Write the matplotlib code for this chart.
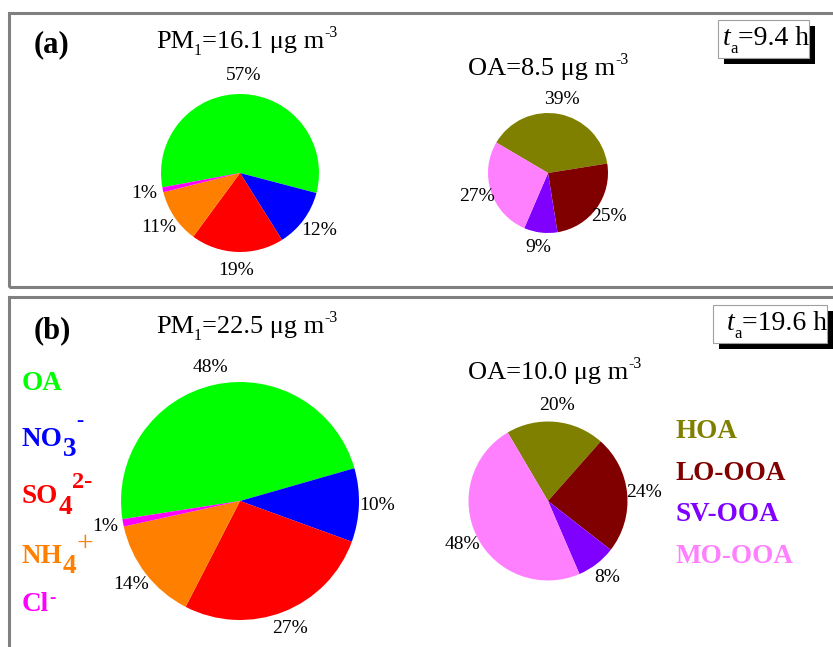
import matplotlib
matplotlib.use('Agg')
import matplotlib.pyplot as plt
from matplotlib.patches import Rectangle

plt.rcParams['font.family'] = ['Liberation Serif', 'DejaVu Serif']

# data
species = ['OA', 'NO3', 'SO4', 'NH4', 'Cl']
# label pieces: (text, shift down in px, size factor, bold)
species_labels = [
    [('OA', 0, 1.0, True)],
    [('NO', 0, 1.0, True), ('3', 10, 1.0, True), ('-', -20, 0.8, True)],
    [('SO', 0, 1.0, True), ('4', 11, 1.0, True), ('2-', -15, 0.9, True)],
    [('NH', 0, 1.0, True), ('4', 10, 1.0, True), ('+', -12, 1.1, False)],
    [('Cl', 0, 1.0, True), ('-', -8, 0.7, True)],
]
species_colors = ['#00ff00', '#0000ff', '#ff0000', '#ff8000', '#ff00ff']
pm1_a = [57, 12, 19, 11, 1]
pm1_b = [48, 10, 27, 14, 1]

factors = ['HOA', 'LO-OOA', 'SV-OOA', 'MO-OOA']
factor_colors = ['#808000', '#800000', '#8000ff', '#ff80ff']
oa_a = [39, 25, 9, 27]
oa_b = [20, 24, 8, 48]

pm1_total = [16.1, 22.5]
oa_total = [8.5, 10.0]
ta = [9.4, 19.6]

W, H = 833, 647
fig = plt.figure(figsize=(W / 100, H / 100), dpi=100)
ax = fig.add_axes([0, 0, 1, 1])
renderer = fig.canvas.get_renderer()


def Y(y):
    return H - y


def rich_text(x, base_y, pieces, size, color='black', zorder=3):
    # pieces: (text, shift down px, size factor, weight, style)
    for txt, dy, fs, wt, st in pieces:
        t = ax.text(x, Y(base_y + dy), txt, color=color, fontsize=size * fs,
                    fontweight=wt, fontstyle=st, va='baseline', zorder=zorder)
        x = t.get_window_extent(renderer).x1


def draw_pie(vals, colors, cx, cy, r, start, pdist):
    ax.pie(vals, colors=colors, center=(cx, Y(cy)), radius=r, startangle=start,
           counterclock=False, frame=True, autopct='%.0f%%', pctdistance=pdist,
           wedgeprops=dict(linewidth=0), textprops=dict(fontsize=14, color='black'))


draw_pie(pm1_a, species_colors, 240, 173, 79, 190.5, 1.24)
draw_pie(oa_a, factor_colors, 548, 173, 60, 149.5, 1.25)
draw_pie(pm1_b, species_colors, 240, 501, 119, 188.8, 1.15)
draw_pie(oa_b, factor_colors, 548, 501, 79.5, 120.5, 1.21)

ax.set_xlim(0, W)
ax.set_ylim(0, H)
ax.set_aspect('equal')
ax.axis('off')

# panel frames
for top, bottom in [(13, 287), (297, 670)]:
    ax.add_patch(Rectangle((9.5, Y(bottom)), 840, bottom - top, fill=False,
                           edgecolor='#808080', lw=2.2, zorder=5, clip_on=False))

for i, off in enumerate([0, 285]):
    ax.text(34, Y(52 + off + (1 if i else 0)), '(%s)' % 'ab'[i], fontsize=22,
            fontweight='bold', va='baseline')
    rich_text(156, 48 + off, [('PM', 0, 1, 'normal', 'normal'),
                              ('1', 7, 0.6, 'normal', 'normal'),
                              ('=%.1f μg m' % pm1_total[i], 0, 1, 'normal', 'normal'),
                              ('-3', -11, 0.6, 'normal', 'normal')], 19)

for tot, by in zip(oa_total, [75, 379]):
    rich_text(468, by, [('OA=%.1f μg m' % tot, 0, 1, 'normal', 'normal'),
                        ('-3', -11, 0.6, 'normal', 'normal')], 19)

# residence time boxes with shadow
for (x0, y0, x1, y1, tx, ty), t in zip([(718, 20, 809, 58, 723, 45),
                                        (713, 305, 827, 343, 727, 330)], ta):
    ax.add_patch(Rectangle((x0 + 6, Y(y1 + 6)), x1 - x0, y1 - y0, facecolor='black',
                           edgecolor='none', zorder=6, clip_on=False))
    ax.add_patch(Rectangle((x0, Y(y1)), x1 - x0, y1 - y0, facecolor='white',
                           edgecolor='#a0a0a0', lw=0.8, zorder=7))
    rich_text(tx, ty, [('t', 0, 1, 'normal', 'italic'),
                       ('a', 8, 0.6, 'normal', 'normal'),
                       ('=%.1f h' % t, 0, 1, 'normal', 'normal')], 20, zorder=8)

# legends
for pieces, col, by in zip(species_labels, species_colors, [390, 446, 503, 563, 611]):
    rich_text(22, by, [(txt, dy, fs, 'bold' if b else 'normal', 'normal')
                       for txt, dy, fs, b in pieces], 19.5, color=col)
for lab, col, by in zip(factors, factor_colors, [438, 480, 521, 563]):
    ax.text(676, Y(by), lab, color=col, fontsize=19.5, fontweight='bold', va='baseline')

fig.savefig('out.png', dpi=100)
